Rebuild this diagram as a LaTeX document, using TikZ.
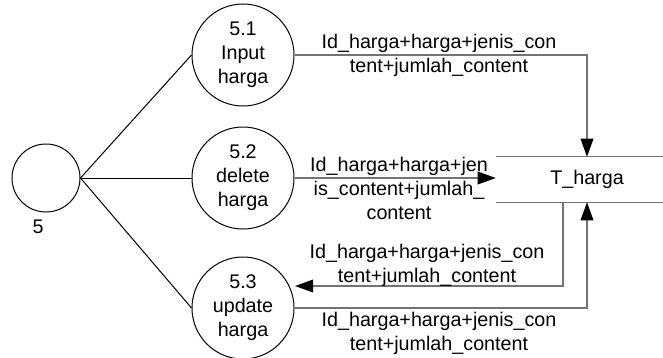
\documentclass[tikz,border=0pt]{standalone}
\usepackage{fontspec}
\setmainfont{Liberation Sans}
\usetikzlibrary{arrows.meta}
\begin{document}
\begin{tikzpicture}[x=0.75pt,y=-0.75pt,
  every node/.style={font=\fontsize{14.8}{18}\selectfont},
  proc/.style={circle,draw=black,line width=0.75pt,minimum size=76.5pt,inner sep=0pt,align=center},
  ext/.style={circle,draw=black,line width=0.75pt,minimum size=51pt,inner sep=0pt},
  link/.style={draw=black,line width=0.75pt},
  flow/.style={draw=black!55,line width=1pt,-{Triangle[length=13.5pt,width=9.5pt,color=black]}},
  flowplain/.style={draw=black!55,line width=1pt},
  lbl/.style={align=center,inner sep=0pt}]
\useasboundingbox (0,0) rectangle (663,357);
\node[ext] (e5) at (46,178) {};
\node[inner sep=0pt] (l5) at (38,227) {5};
\node[proc] (p1) at (243,55) {5.1\\Input\\harga};
\node[proc] (p2) at (243,178) {5.2\\delete\\harga};
\node[proc] (p3) at (243,308) {5.3\\update\\harga};
\node[minimum width=136.5pt,minimum height=33.75pt,inner sep=0pt] (st) at (587,179.5) {T\_harga};
\draw[flowplain] (st.north west) -- (st.north east);
\draw[flowplain] (st.south west) -- (st.south east);
\draw[link] (e5.east) -- (p1.west);
\draw[link] (e5.east) -- (p2.west);
\draw[link] (e5.east) -- (p3.west);
\coordinate (c3) at (295,286);
\coordinate (s3) at (563,202);
\draw[flow] (p1.east) -| (st.north);
\draw[flow] (p2.east) -- (p2.east -| st.west);
\draw[flow] (s3) |- (c3);
\draw[flow] (p3.east) -| (st.south);
\node[lbl] (t1) at (439,55) {Id\_harga+harga+jenis\_con\\tent+jumlah\_content};
\node[lbl] (t2) at (399,188) {Id\_harga+harga+jen\\is\_content+jumlah\_\\content};
\node[lbl] (t3) at (427,265) {Id\_harga+harga+jenis\_con\\tent+jumlah\_content};
\node[lbl] (t4) at (439,333) {Id\_harga+harga+jenis\_con\\tent+jumlah\_content};
\end{tikzpicture}
\end{document}
